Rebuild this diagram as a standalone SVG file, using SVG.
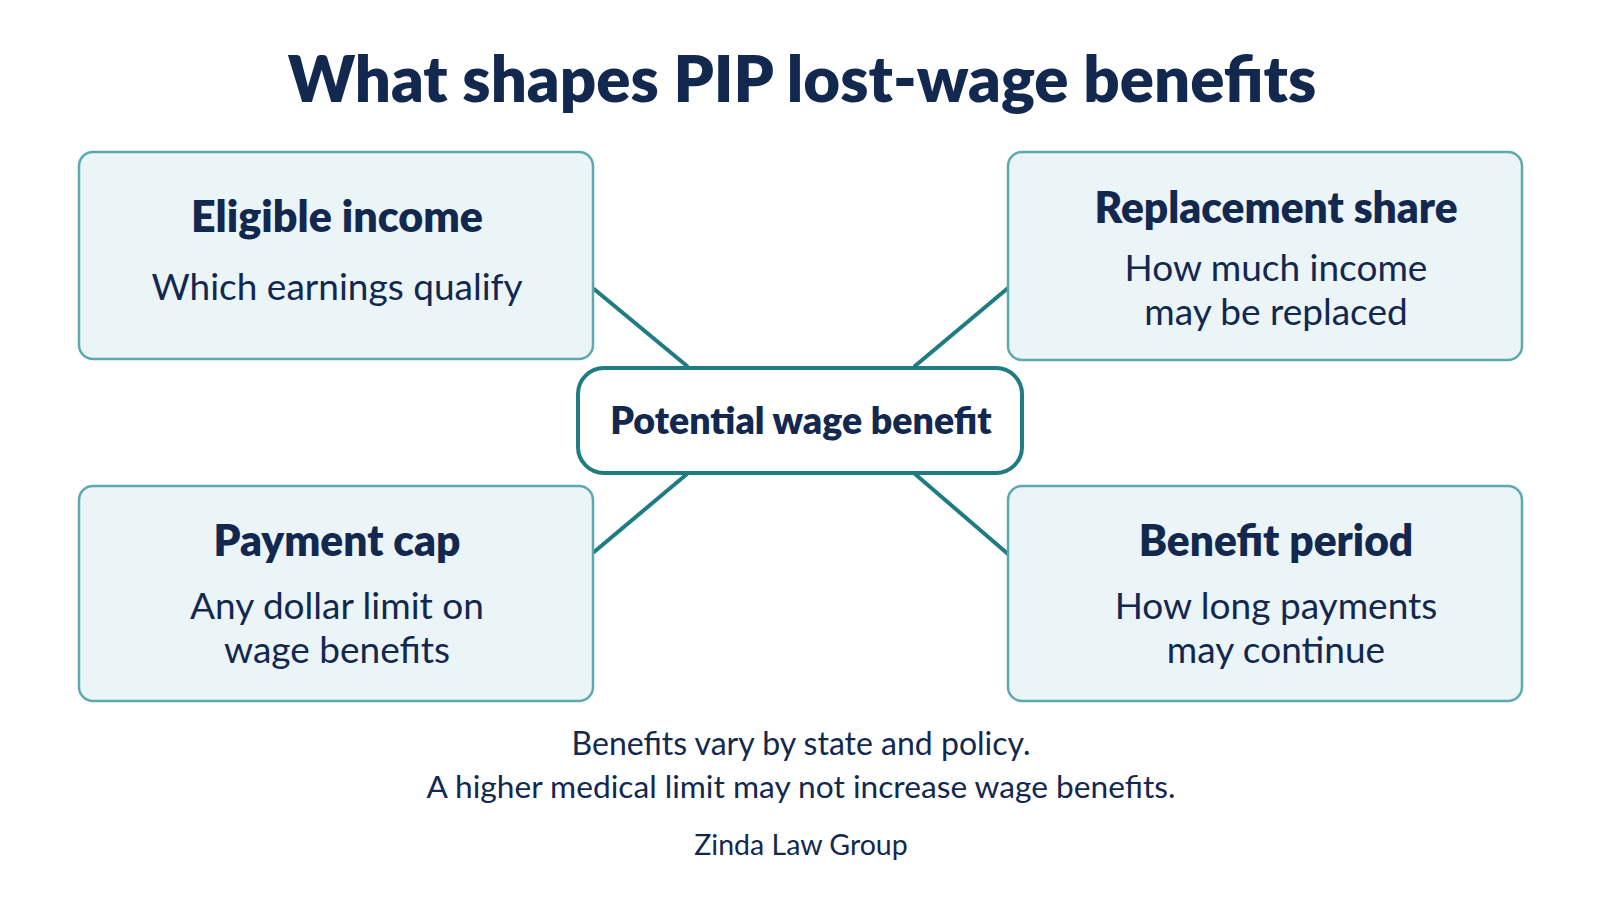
<svg xmlns="http://www.w3.org/2000/svg" width="1600" height="900" viewBox="0 0 1600 900">
<style>
.box{fill:#ebf4f6;stroke:#5ea8b0;stroke-width:2.5}
.hub{fill:#ffffff;stroke:#1f7c82;stroke-width:4}
.conn{stroke:#1f7c82;stroke-width:4;fill:none;stroke-linecap:round}
.h{font-family:Lato,"Noto Sans",sans-serif;font-weight:800;fill:#13284f;text-anchor:middle}
.t{font-family:Lato,"Noto Sans",sans-serif;font-weight:400;fill:#13284f;text-anchor:middle}
</style>
<rect width="1600" height="900" fill="#ffffff"/>
<text class="h" x="802" y="102" font-size="63.5" font-weight="900">What shapes PIP lost-wage benefits</text>
<g id="connectors">
<line class="conn" x1="594" y1="289" x2="687" y2="366"/>
<line class="conn" x1="1008" y1="288" x2="915" y2="366"/>
<line class="conn" x1="594" y1="552" x2="687" y2="474"/>
<line class="conn" x1="1008" y1="554" x2="915" y2="474"/>
</g>
<g id="eligible">
<rect class="box" x="79" y="152" width="514" height="207" rx="14"/>
<text class="h" x="337" y="232" font-size="43">Eligible income</text>
<text class="t" x="337" y="300" font-size="37">Which earnings qualify</text>
</g>
<g id="replacement">
<rect class="box" x="1008" y="152" width="514" height="208" rx="14"/>
<text class="h" x="1276" y="223" font-size="42.5">Replacement share</text>
<text class="t" x="1276" y="281" font-size="37">How much income</text>
<text class="t" x="1276" y="325" font-size="37">may be replaced</text>
</g>
<g id="cap">
<rect class="box" x="79" y="486" width="514" height="215" rx="14"/>
<text class="h" x="337" y="556" font-size="42.5">Payment cap</text>
<text class="t" x="337" y="619" font-size="37">Any dollar limit on</text>
<text class="t" x="337" y="663" font-size="37">wage benefits</text>
</g>
<g id="period">
<rect class="box" x="1008" y="486" width="514" height="215" rx="14"/>
<text class="h" x="1276" y="556" font-size="42.5">Benefit period</text>
<text class="t" x="1276" y="619" font-size="37">How long payments</text>
<text class="t" x="1276" y="663" font-size="37">may continue</text>
</g>
<g id="hub">
<rect class="hub" x="578" y="368" width="444" height="105" rx="26"/>
<text class="h" x="801" y="434" font-size="37.5">Potential wage benefit</text>
</g>
<g id="footer">
<text class="t" x="801" y="755" font-size="32">Benefits vary by state and policy.</text>
<text class="t" x="801" y="798" font-size="31.7">A higher medical limit may not increase wage benefits.</text>
<text class="t" x="801" y="855" font-size="28.5">Zinda Law Group</text>
</g>
</svg>
